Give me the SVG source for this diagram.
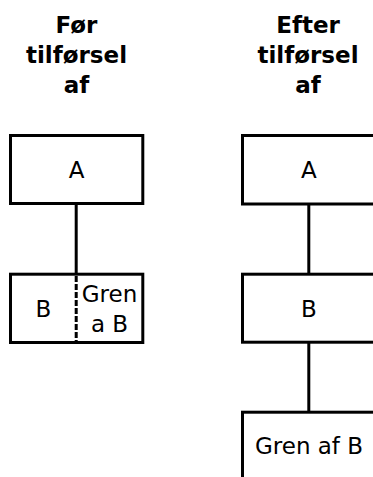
<svg xmlns="http://www.w3.org/2000/svg" width="373" height="477" viewBox="0 0 373 477">
<style>
.box{fill:#fff;stroke:#000;stroke-width:3}
.line{stroke:#000;stroke-width:3;fill:none}
.dash{stroke:#000;stroke-width:3;fill:none;stroke-dasharray:6 2}
.t{font-family:"DejaVu Sans",Verdana,sans-serif;font-size:23px;fill:#000;text-anchor:middle}
.h{font-family:"DejaVu Sans",Verdana,sans-serif;font-size:23px;font-weight:bold;fill:#000;text-anchor:middle}
</style>
<rect width="373" height="477" fill="#fff"/>
<g id="title-left">
<text class="h" x="76.5" y="33">Før</text>
<text class="h" x="76.5" y="63">tilførsel</text>
<text class="h" x="76.5" y="93">af</text>
</g>
<g id="title-right">
<text class="h" x="308" y="33">Efter</text>
<text class="h" x="308" y="63">tilførsel</text>
<text class="h" x="308" y="93">af</text>
</g>
<g id="connectors">
<line class="line" x1="76.2" y1="204" x2="76.2" y2="274"/>
<line class="line" x1="308.8" y1="204" x2="308.8" y2="274"/>
<line class="line" x1="308.8" y1="342" x2="308.8" y2="412"/>
</g>
<g id="left-A">
<rect class="box" x="10.5" y="135.5" width="132.3" height="68"/>
<text class="t" x="76.5" y="178">A</text>
</g>
<g id="left-B">
<rect class="box" x="10.5" y="274.2" width="132.3" height="68.3"/>
<line class="dash" x1="76.2" y1="276" x2="76.2" y2="341"/>
<text class="t" x="43.5" y="316.5">B</text>
<text class="t" x="109.5" y="301.5">Gren</text>
<text class="t" x="109.5" y="331.5">a B</text>
</g>
<g id="right-A">
<rect class="box" x="242.5" y="135.5" width="132.5" height="68.5"/>
<text class="t" x="308.8" y="178">A</text>
</g>
<g id="right-B">
<rect class="box" x="242.5" y="274.2" width="132.5" height="68"/>
<text class="t" x="308.8" y="316.5">B</text>
</g>
<g id="right-gren">
<rect class="box" x="242.5" y="412.2" width="132.5" height="68"/>
<text class="t" x="309" y="454">Gren af B</text>
</g>
</svg>
